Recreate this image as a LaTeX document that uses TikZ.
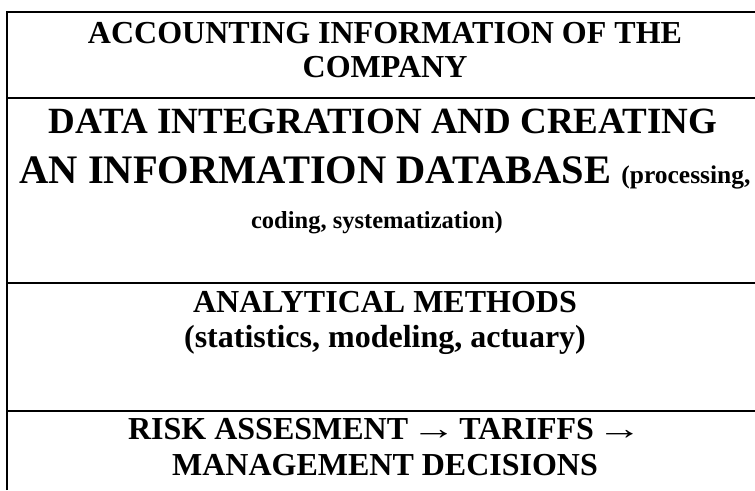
\documentclass[tikz,border=0pt]{standalone}
\usepackage{graphicx}
\usepackage{fontspec}
\setmainfont{Liberation Serif}
% a slightly widened text arrow with tight spacing around it
\newcommand{\widearrow}{\hspace{0.1em}\scalebox{1.4}[1]{→}}
\begin{document}
\begin{tikzpicture}[x=1pt,y=-1pt,
  rule/.style={line width=1.5pt,black},
  txt/.style={anchor=base,inner sep=0pt,font=\bfseries\fontsize{32}{36}\selectfont},
  big/.style={anchor=base,inner sep=0pt,font=\bfseries\fontsize{37}{44}\selectfont},
  bigger/.style={anchor=base,inner sep=0pt,font=\bfseries\fontsize{40.5}{46}\selectfont},
  small/.style={anchor=base,inner sep=0pt,font=\bfseries\fontsize{24.5}{30}\selectfont}]
\useasboundingbox (0,0) rectangle (755,490);
% table frame: left border and row separators (right border lies outside)
\coordinate (tl) at (7,12);
\coordinate (bl) at (7,490);
\draw[rule] (bl) -- (tl) -- (755,12);
\draw[rule] (7,98) -- (755,98);
\draw[rule] (7,283) -- (755,283);
\draw[rule] (7,411) -- (755,411);
% row 1
\node[txt] (a1) at (385,43.5) {ACCOUNTING INFORMATION OF THE};
\node[txt] (a2) at (385,77.5) {COMPANY};
% row 2
\node[big] (b1) at (383,133) {DATA INTEGRATION AND CREATING};
\node[bigger] (b2) at (385,183) {AN INFORMATION DATABASE {\fontsize{25.5}{30}\selectfont(processing,}};
\node[small] (b3) at (377,228) {coding, systematization)};
% row 3
\node[txt] (c1) at (385,312) {ANALYTICAL METHODS};
\node[txt] (c2) at (385,347.5) {(statistics, modeling, actuary)};
% row 4
\node[txt] (d1) at (385,439) {RISK ASSESMENT\widearrow\hspace{0.1em}TARIFFS\widearrow};
\node[txt] (d2) at (385,475) {MANAGEMENT DECISIONS};
\end{tikzpicture}
\end{document}
